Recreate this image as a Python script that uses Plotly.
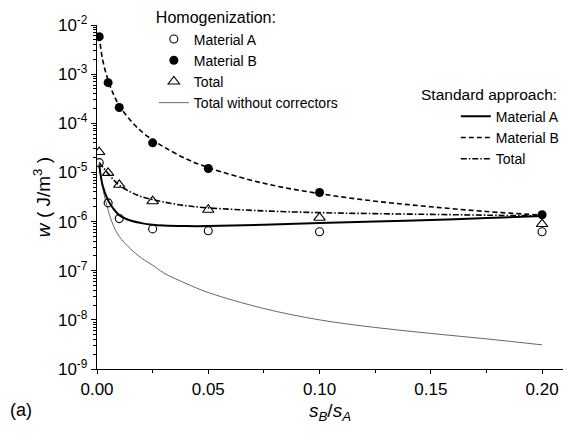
import plotly.graph_objects as go

# ---------------- data ----------------
x_pts = [0.001, 0.005, 0.01, 0.025, 0.05, 0.1, 0.2]
homog_A = [1.58e-5, 2.4e-6, 1.15e-6, 7.1e-7, 6.5e-7, 6.2e-7, 6.2e-7]
homog_B = [5.8e-3, 6.7e-4, 2.1e-4, 4.0e-5, 1.2e-5, 3.9e-6, 1.38e-6]
homog_T = [2.6e-5, 9.8e-6, 5.6e-6, 2.6e-6, 1.74e-6, 1.2e-6, 8.9e-7]

x_curve = [0.001, 0.0025, 0.005, 0.0075, 0.01, 0.015, 0.02, 0.025, 0.03, 0.04,
           0.05, 0.075, 0.1, 0.125, 0.15, 0.175, 0.2]
std_A = [1.45e-5, 5.5e-6, 2.7e-6, 1.8e-6, 1.35e-6, 1.05e-6, 9.3e-7, 8.6e-7, 8.3e-7, 8.1e-7,
         8.1e-7, 8.6e-7, 9.3e-7, 1.0e-6, 1.08e-6, 1.18e-6, 1.3e-6]
std_B = [6e-3, 2e-3, 7.5e-4, 3.8e-4, 2.3e-4, 1.15e-4, 6.8e-5, 4.6e-5, 3.3e-5, 1.9e-5,
         1.25e-5, 6e-6, 3.7e-6, 2.6e-6, 2.0e-6, 1.6e-6, 1.35e-6]
std_T = [1.6e-5, 1.3e-5, 9.5e-6, 7e-6, 5.5e-6, 4e-6, 3.2e-6, 2.8e-6, 2.5e-6, 2.1e-6,
         1.9e-6, 1.65e-6, 1.52e-6, 1.45e-6, 1.4e-6, 1.35e-6, 1.3e-6]
no_corr = [1.45e-5, 5e-6, 1.7e-6, 8e-7, 5e-7, 2.8e-7, 1.8e-7, 1.3e-7, 9e-8, 5.5e-8,
           3.6e-8, 1.7e-8, 1.0e-8, 7e-9, 5.3e-9, 4.1e-9, 3.1e-9]

x_ticks = [0.0, 0.05, 0.10, 0.15, 0.20]
y_exps = [-9, -8, -7, -6, -5, -4, -3, -2]

FONT = "Liberation Sans, Arial, sans-serif"
LEG_FS = 14
TITLE_FS = 16

fig = go.Figure()

# ---- curves ----
fig.add_trace(go.Scatter(x=x_curve, y=no_corr, mode="lines", name="Total without correctors",
                         line=dict(color="#555555", width=0.9, shape="spline"),
                         legend="legend", legendrank=4))
fig.add_trace(go.Scatter(x=x_curve, y=std_A, mode="lines", name="Material A",
                         line=dict(color="black", width=2, shape="spline"),
                         legend="legend2", legendrank=1))
fig.add_trace(go.Scatter(x=x_curve, y=std_B, mode="lines", name="Material B",
                         line=dict(color="black", width=1.6, dash="5px,3px", shape="spline"),
                         legend="legend2", legendrank=2))
fig.add_trace(go.Scatter(x=x_curve, y=std_T, mode="lines", name="Total",
                         line=dict(color="black", width=1.6, dash="6px,2px,1.5px,2px", shape="spline"),
                         legend="legend2", legendrank=3))

# ---- homogenization points ----
fig.add_trace(go.Scatter(x=x_pts, y=homog_A, mode="markers", name="Material A",
                         marker=dict(symbol="circle-open", size=8, color="black",
                                     line=dict(width=1.1, color="black")),
                         legend="legend", legendrank=1))
fig.add_trace(go.Scatter(x=x_pts, y=homog_B, mode="markers", name="Material B",
                         marker=dict(symbol="circle", size=9, color="black"),
                         legend="legend", legendrank=2))
fig.add_trace(go.Scatter(x=x_pts, y=homog_T, mode="markers", name="Total",
                         marker=dict(symbol="triangle-up-open", size=10, color="black",
                                     line=dict(width=1.1, color="black")),
                         legend="legend", legendrank=3))

minor_y = [m * 10 ** e for e in y_exps[:-1] for m in range(2, 10)]

# the page body has an 8px margin, so the figure is drawn 8px smaller and shifted
fig.update_layout(
    width=566, height=432,
    margin=dict(l=89, r=11, t=17, b=71, autoexpand=False),
    paper_bgcolor="white", plot_bgcolor="white",
    font=dict(family=FONT, size=17, color="black"),
    showlegend=True,
    xaxis=dict(
        range=[0, 0.2094], tickmode="array", tickvals=x_ticks, tickformat=".2f",
        showgrid=False, zeroline=False, showline=True, linecolor="black", linewidth=1.3,
        ticks="outside", ticklen=4, tickwidth=1.2, tickcolor="black",
        tickfont=dict(size=17),
        minor=dict(tickmode="array", tickvals=[0.025, 0.075, 0.125, 0.175],
                   ticks="outside", ticklen=3, tickcolor="black", showgrid=False),
        title=dict(text="<i>s</i><sub><i>B</i></sub>/<i>s</i><sub><i>A</i></sub>",
                   font=dict(size=19), standoff=6),
    ),
    yaxis=dict(
        type="log", range=[-9, -2], tickmode="array",
        tickvals=[10 ** e for e in y_exps],
        ticktext=["10<sup>%d</sup>" % e for e in y_exps],
        showgrid=False, zeroline=False, showline=True, linecolor="black", linewidth=1.3,
        ticks="outside", ticklen=5, tickwidth=1.2, tickcolor="black",
        tickfont=dict(size=17),
        minor=dict(tickmode="array", tickvals=minor_y, ticks="outside", ticklen=3,
                   tickcolor="black", showgrid=False),
        title=dict(text="<i>w</i> ( J/m<sup>3</sup> )", font=dict(size=19), standoff=2),
    ),
    legend=dict(
        x=0.122, y=1.065, xanchor="left", yanchor="top",
        bgcolor="rgba(0,0,0,0)", font=dict(size=LEG_FS),
        title=dict(text="Homogenization:", font=dict(size=TITLE_FS)),
        tracegroupgap=0, itemwidth=30,
    ),
    legend2=dict(
        x=0.770, y=0.78, xanchor="left", yanchor="top",
        bgcolor="rgba(0,0,0,0)", font=dict(size=LEG_FS),
        tracegroupgap=0, itemwidth=30,
    ),
    annotations=[
        dict(text="Standard approach:", x=0.690, y=0.799, xref="paper", yref="paper",
             xanchor="left", yanchor="middle", showarrow=False, font=dict(size=TITLE_FS - 0.5)),
        dict(text="(a)", x=-0.191, y=-0.119, xref="paper", yref="paper",
             xanchor="left", yanchor="middle", showarrow=False, font=dict(size=18)),
    ],
)

fig.write_html("out.html")
